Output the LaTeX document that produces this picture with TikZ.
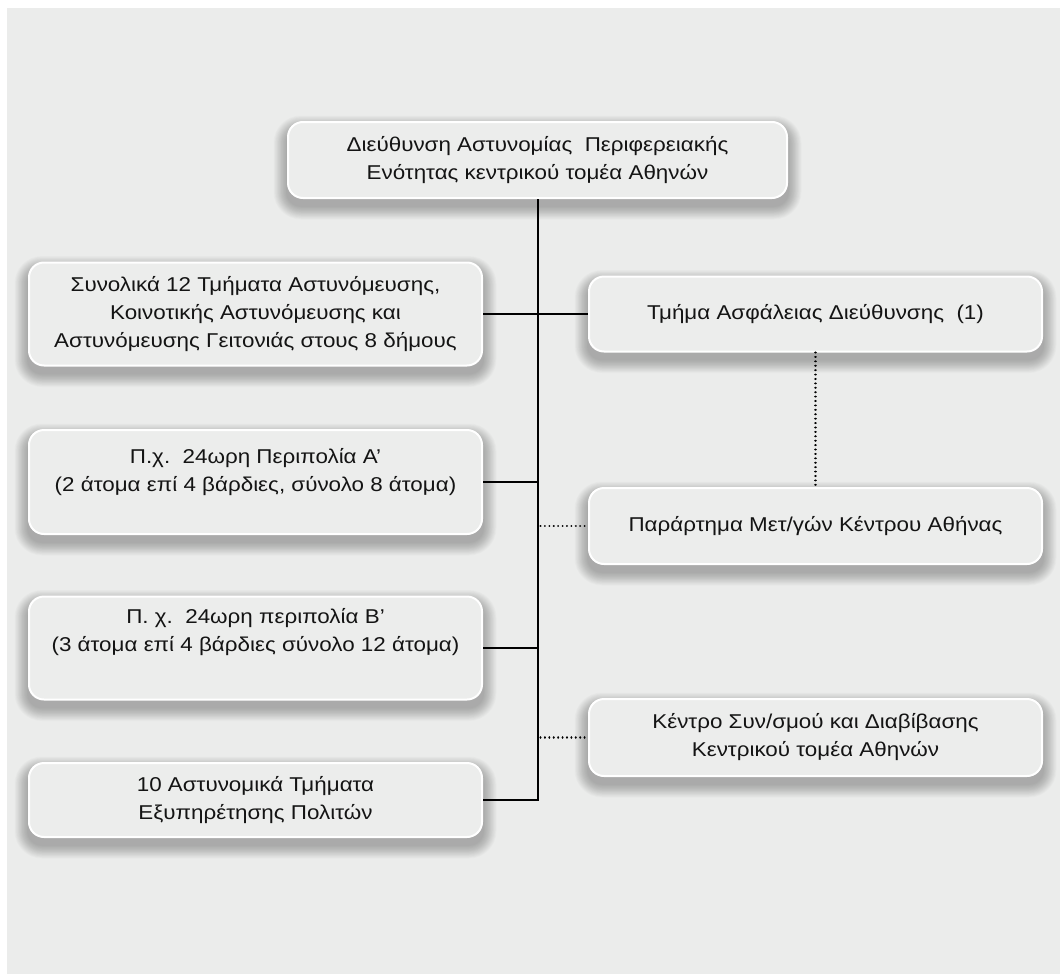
\documentclass[tikz,border=0pt]{standalone}
\usepackage{fontspec}
\setmainfont[FakeStretch=1.12]{Liberation Sans}
\usetikzlibrary{backgrounds}
\definecolor{panel}{RGB}{235,236,235}
\definecolor{boxfill}{RGB}{236,237,236}
\frenchspacing
\begin{document}
\begin{tikzpicture}[x=1pt,y=-1pt,
  box/.style={draw=white, line width=2pt, fill=boxfill, rounded corners=15pt,
    align=center, inner sep=0pt, text=black!92,
    font=\fontsize{20}{28}\selectfont},
  wide/.style={box, minimum width=453pt},
  link/.style={line width=2pt, black},
  dotlink/.style={line width=2.1pt, line cap=round, dash pattern=on 0.01pt off 4.4pt, black},
]
% page and grey panel
\begin{pgfonlayer}{background}
  \fill[white] (0,0) rectangle (1060,974);
  \fill[panel] (7,8) rectangle (1060,974);
\end{pgfonlayer}

% head office
\node[box, minimum width=499pt, minimum height=76pt] (top) at (537.5,160)
  {Διεύθυνση Αστυνομίας\ \ Περιφερειακής\\Ενότητας κεντρικού τομέα Αθηνών};

% left column
\node[wide, minimum height=103pt] (l1) at (255.5,314)
  {Συνολικά 12 Τμήματα Αστυνόμευσης,\\Κοινοτικής Αστυνόμευσης και\\Αστυνόμευσης Γειτονιάς στους 8 δήμους};
\node[wide, minimum height=104pt] (l2) at (255.5,482)
  {Π.χ.\ \ 24ωρη Περιπολία Α’\\(2 άτομα επί 4 βάρδιες, σύνολο 8 άτομα)\\[-4pt]\mbox{}};
\node[wide, minimum height=103pt] (l3) at (255.5,648)
  {Π.\ χ.\ \ 24ωρη περιπολία Β’\\(3 άτομα επί 4 βάρδιες σύνολο 12 άτομα)\\[8pt]\mbox{}};
\node[wide, minimum height=74pt] (l4) at (255.5,800)
  {10 Αστυνομικά Τμήματα\\Εξυπηρέτησης Πολιτών};

% right column
\node[wide, minimum height=75pt] (r1) at (815.5,314)
  {Τμήμα Ασφάλειας Διεύθυνσης\ \ (1)};
\node[wide, minimum height=76pt] (r2) at (815.5,526)
  {Παράρτημα Μετ/γών Κέντρου Αθήνας};
\node[wide, minimum height=77pt] (r3) at (815.5,737.5)
  {Κέντρο Συν/σμού και Διαβίβασης\\Κεντρικού τομέα Αθηνών};

% soft shadows under every box
\begin{pgfonlayer}{background}
  \foreach \n in {top,l1,l2,l3,l4,r1,r2,r3}{
    \foreach \i in {1,...,18}{
      \pgfmathsetmacro\dd{0.75*\i}
      \pgfmathsetmacro\rr{14+\dd}
      \fill[black, opacity=0.016, rounded corners=\rr pt]
        ([xshift=-\dd pt, yshift=-7pt-\dd pt]\n.south west) rectangle
        ([xshift=\dd pt, yshift=-8pt+\dd pt]\n.north east);
    }
  }
\end{pgfonlayer}

% solid reporting lines
\draw[link] (top.south) -- (top.south |- l4.east) -- (l4.east);
\draw[link] (l1.east) -- (r1.west);
\draw[link] (l2.east) -- (l2.east -| top.south);
\draw[link] (l3.east) -- (l3.east -| top.south);

% dotted links
\draw[dotlink] ([xshift=3pt]r2.west -| top.south) -- (r2.west);
\draw[dotlink] ([xshift=3pt]r3.west -| top.south) -- (r3.west);
\draw[dotlink] (r1.south) -- (r2.north);
\end{tikzpicture}
\end{document}
